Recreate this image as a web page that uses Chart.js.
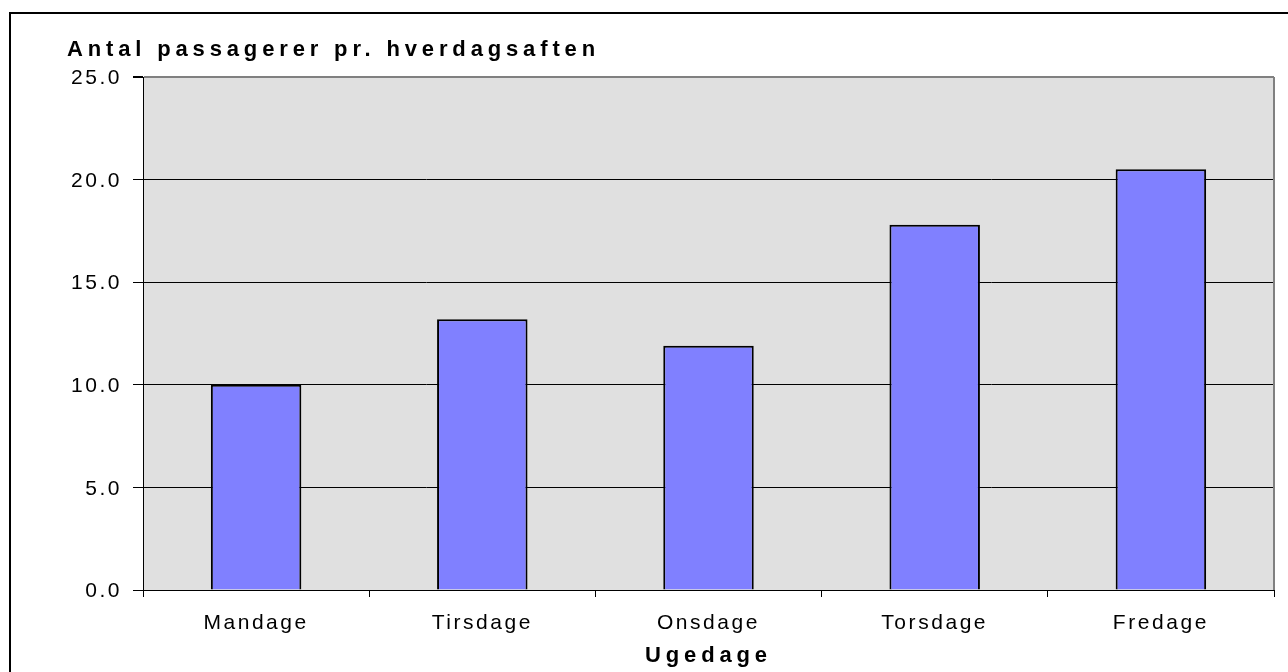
<!DOCTYPE html>
<html>
<head>
<meta charset="utf-8">
<script src="https://cdn.jsdelivr.net/npm/chart.js@4.4.1/dist/chart.umd.min.js"></script>
<style>
  html, body { margin: 0; padding: 0; background: #ffffff; }
  #wrap { width: 1288px; height: 672px; position: relative; }
</style>
</head>
<body>
<div id="wrap"><canvas id="c" width="1288" height="672"></canvas></div>
<script>
const categories = ['Mandage', 'Tirsdage', 'Onsdage', 'Torsdage', 'Fredage'];
const values = [10.0, 13.2, 11.9, 17.8, 20.5];
const chartTitle = 'Antal passagerer pr. hverdagsaften';
const xAxisTitle = 'Ugedage';
const yMin = 0, yMax = 25, yStep = 5;

const FONT = "'Liberation Sans', Arial, sans-serif";
const TITLE_SPACING = '4.85px';
const TICK_SPACING = '2.55px';

const stylePlugin = {
  id: 'stylePlugin',
  beforeUpdate(chart) { chart.ctx.letterSpacing = TITLE_SPACING; },
  beforeDraw(chart) {
    const ctx = chart.ctx;
    const a = chart.chartArea;
    ctx.save();
    ctx.fillStyle = '#e0e0e0';
    ctx.fillRect(a.left, a.top, a.right - a.left, a.bottom - a.top);
    ctx.restore();
    ctx.letterSpacing = TITLE_SPACING;
  },
  beforeDatasetsDraw(chart) {
    const ctx = chart.ctx;
    const a = chart.chartArea;
    ctx.save();
    ctx.strokeStyle = '#808080';
    ctx.lineWidth = 2;
    ctx.beginPath();
    ctx.moveTo(a.right, a.top);
    ctx.lineTo(a.right, a.bottom);
    ctx.stroke();
    ctx.restore();
    ctx.letterSpacing = TICK_SPACING;
  },
  afterDraw(chart) {
    const ctx = chart.ctx;
    ctx.save();
    ctx.fillStyle = '#000';
    ctx.fillRect(9, 12, chart.width, 2);
    ctx.fillRect(9, 12, 2, chart.height);
    ctx.restore();
    ctx.letterSpacing = TITLE_SPACING;
  }
};

new Chart(document.getElementById('c'), {
  type: 'bar',
  data: {
    labels: categories,
    datasets: [{
      data: values,
      backgroundColor: '#8080ff',
      borderColor: '#000000',
      borderWidth: 2,
      barPercentage: 0.4,
      categoryPercentage: 1.0
    }]
  },
  plugins: [stylePlugin],
  options: {
    responsive: false,
    animation: false,
    devicePixelRatio: 1,
    layout: { padding: { left: 67, right: 14, top: 0, bottom: 0 } },
    plugins: {
      legend: { display: false },
      tooltip: { enabled: false },
      title: {
        display: true,
        text: chartTitle,
        align: 'start',
        color: '#000',
        font: { family: FONT, size: 22, weight: 'bold', lineHeight: 1.2 },
        padding: { top: 37, bottom: 13.6 }
      }
    },
    scales: {
      x: {
        offset: true,
        grid: { display: true, drawOnChartArea: false, drawTicks: true, tickLength: 7, color: '#000', tickColor: '#000', offset: true, z: 0 },
        border: { display: true, color: '#000', width: 1, z: 1 },
        ticks: {
          color: '#000', font: { family: FONT, size: 21 }, padding: 14,
          maxRotation: 0, minRotation: 0, autoSkip: false, z: 1
        },
        title: {
          display: true, text: xAxisTitle, color: '#000',
          font: { family: FONT, size: 22, weight: 'bold', lineHeight: 1.2 },
          padding: { top: 0, bottom: 3 }
        },
        afterFit(scale) { scale.height = 82; }
      },
      y: {
        min: yMin, max: yMax,
        grid: {
          drawOnChartArea: true, drawTicks: true, tickLength: 10,
          color: (c) => (c.tick && c.tick.value === yMax) ? '#808080' : '#000',
          lineWidth: (c) => (c.tick && c.tick.value === yMax) ? 2 : 1,
          tickColor: '#000', z: 0
        },
        border: { display: true, color: '#000', width: 1, z: 1 },
        ticks: {
          stepSize: yStep, color: '#000', font: { family: FONT, size: 21 }, padding: 11, z: 1,
          labelOffset: 1.5,
          callback: (v) => Number(v).toFixed(1)
        },
        afterFit(scale) { scale.width = 76; }
      }
    }
  }
});
</script>
</body>
</html>
